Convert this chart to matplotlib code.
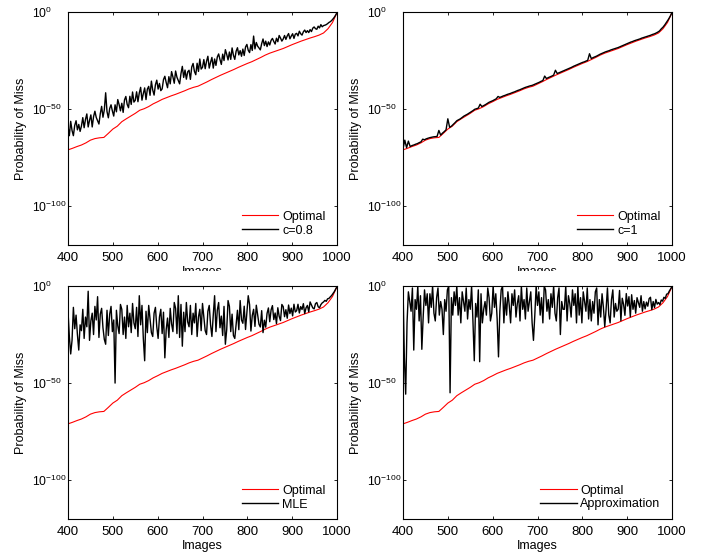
import numpy as np
import matplotlib.pyplot as plt
from matplotlib.patches import Rectangle

plt.rcParams['font.family'] = ['Liberation Sans', 'DejaVu Sans']

# x values (number of images)
opt_images = np.arange(400, 1001, 10)
c1_images = np.arange(400, 1001, 4)
images = np.arange(400, 1001, 3)

# log10 of probability of miss
optimal = [-71.0, -70.2, -69.3, -68.5, -67.4, -66.0, -65.2, -64.8, -64.6, -62.5,
           -60.3, -58.8, -56.5, -55.0, -53.6, -52.2, -50.6, -49.8, -48.7, -47.3,
           -46.2, -45.0, -44.1, -43.2, -42.4, -41.5, -40.6, -39.6, -38.8, -38.2,
           -37.1, -36.0, -34.8, -33.7, -32.6, -31.6, -30.6, -29.6, -28.5, -27.5,
           -26.5, -25.6, -24.5, -23.4, -22.2, -21.2, -20.4, -19.6, -18.8, -17.8,
           -16.8, -15.9, -15.0, -14.2, -13.4, -12.7, -11.9, -10.8, -8.6, -5.4,
           -0.3]

c08 = [-59, -63.7, -56.3, -61.0, -63.7, -58.4, -56.0, -60.7, -57.9, -61.5,
       -58.7, -54.4, -59.6, -55.3, -52.5, -59.2, -55.8, -53.0, -59.2, -53.9,
       -51.1, -54.3, -56.0, -57.7, -52.4, -48.6, -54.2, -50.4, -41.6, -51.3,
       -54.5, -49.7, -47.8, -51.0, -53.6, -47.8, -51.4, -45.1, -47.7, -50.9,
       -47.0, -51.7, -45.3, -43.5, -47.6, -49.3, -43.4, -47.6, -41.2, -46.4,
       -45.5, -41.1, -46.2, -41.7, -38.8, -45.4, -42.0, -39.1, -45.1, -39.7,
       -38.3, -42.9, -35.6, -40.2, -42.8, -37.5, -35.1, -39.7, -36.8, -40.5,
       -39.6, -34.8, -33.1, -36.3, -39.0, -33.3, -37.0, -30.7, -33.4, -36.7,
       -30.4, -33.6, -35.3, -37.0, -31.7, -28.0, -33.7, -29.9, -34.6, -30.8,
       -30.0, -34.7, -28.3, -26.5, -30.6, -32.3, -26.4, -30.6, -24.2, -29.4,
       -28.5, -24.5, -29.2, -25.4, -22.8, -28.9, -25.9, -23.4, -28.9, -24.2,
       -27.5, -23.2, -21.6, -24.5, -27.0, -21.7, -25.0, -19.4, -21.8, -24.7,
       -20.6, -24.4, -18.5, -22.3, -24.4, -20.2, -18.4, -22.1, -19.9, -22.8,
       -19.1, -22.4, -18.0, -16.7, -19.7, -20.9, -16.8, -19.8, -12.4, -19.0,
       -15.7, -17.6, -18.5, -19.5, -16.3, -13.9, -17.3, -15.0, -17.8, -15.4,
       -17.0, -14.6, -13.6, -15.2, -16.5, -13.5, -15.3, -12.1, -13.4, -15.0,
       -13.9, -12.1, -14.1, -12.3, -11.1, -13.8, -12.4, -11.2, -13.6, -11.4,
       -11.0, -12.3, -9.9, -11.2, -11.9, -10.2, -9.3, -10.6, -9.6, -10.6,
       -9.05, -10.1, -8.3, -7.7, -8.6, -8.9, -7.3, -8.2, -6.5, -7.6,
       -7.0, -6.8, -6.5, -6.0, -5.4, -5.0, -4.4, -3.6, -2.7, -1.6,
       -0.3]

c1 = [-70.5, -66, -69.9, -66.5, -69.3, -68.8, -68.5, -68.1, -67.8, -67.3,
      -66.9, -65.5, -65.8, -65.3, -65.0, -64.7, -64.5, -64.3, -64.2, -64.1,
      -61, -63.4, -62.4, -61.6, -60.7, -55, -59.4, -58.8, -57.9, -57.0,
      -56.0, -55.5, -55.0, -54.3, -53.6, -53.1, -52.6, -52.0, -51.4, -50.8,
      -50.1, -49.8, -49.5, -47.5, -48.7, -48.2, -47.7, -47.1, -46.5, -46.1,
      -45.7, -45.2, -44.7, -43.5, -44.0, -43.6, -43.2, -42.9, -42.5, -42.2,
      -41.9, -41.5, -41.2, -40.8, -40.4, -40.1, -39.7, -39.3, -38.9, -38.6,
      -38.3, -38.0, -37.8, -37.4, -37.0, -36.6, -36.2, -35.7, -35.3, -33,
      -34.3, -33.8, -33.4, -33.0, -32.5, -30, -31.7, -31.3, -30.9, -30.5,
      -30.1, -29.7, -29.3, -28.9, -28.5, -28.0, -27.6, -27.2, -26.8, -26.4,
      -26.0, -25.7, -25.3, -24.9, -21.5, -24.0, -23.5, -23.1, -22.7, -22.2,
      -21.7, -21.3, -20.9, -20.5, -20.2, -19.9, -19.5, -19.2, -18.9, -18.6,
      -18.3, -17.9, -17.5, -17.1, -16.7, -16.3, -15.9, -15.5, -15.2, -14.8,
      -14.5, -14.2, -13.9, -13.5, -13.2, -12.9, -12.6, -12.3, -12.0, -11.6,
      -11.3, -10.9, -10.4, -9.8, -8.7, -7.8, -6.6, -5.2, -3.8, -2.2,
      -0.2]

mle = [-13, -26, -35, -28, -11, -22, -15, -25, -33, -20,
       -23, -12, -27, -16, -21, -2.7, -28, -18, -14, -25,
       -10.5, -17.5, -5.5, -26.5, -14.5, -11.5, -21.5, -27.5, -30, -12.5,
       -25.5, -14.5, -10.5, -23.5, -17.5, -50, -12.5, -20.5, -24.5, -9.5,
       -12, -25, -16, -27, -10, -21, -14, -24, -9, -19,
       -22, -11, -26, -5, -20, -10, -27, -38.5, -13, -24,
       -10, -17, -24, -26, -14, -11, -21, -27, -16, -12,
       -24.5, -13.5, -37, -22.5, -16.5, -26.5, -11.5, -19.5, -23.5, -8.5,
       -11.5, -24.5, -5, -26.5, -9.5, -31, -13.5, -23.5, -8.5, -18.5,
       -21, -10, -25, -14, -19, -9, -26, -16, -12, -23,
       -9, -16, -23, -25, -13, -10, -20, -26, -15, -5,
       -23.5, -12.5, -8.5, -21.5, -15.5, -25.5, -10.5, -30, -22.5, -7.5,
       -10.5, -23.5, -14.5, -25.5, -27, -19.5, -12.5, -22.5, -7.5, -17.5,
       -19.2, -10.4, -22.4, -13.6, -5, -9.6, -23.2, -15.2, -12, -20.8,
       -9.9, -14.8, -19.7, -21.1, -12.7, -24, -17.6, -21.2, -14.1, -11.3,
       -18.4, -12.3, -10.1, -17.3, -13.9, -19.4, -11.2, -15.6, -17.8, -9.5,
       -10.6, -15.8, -12.2, -16.6, -9.8, -14.2, -11.4, -15.4, -9.4, -13.4,
       -12.7, -9.4, -13.9, -10.6, -12.1, -9.1, -14.2, -11.2, -10.0, -13.3,
       -8.2, -9.8, -11.3, -11.8, -9.1, -8.5, -10.7, -11.2, -9.6, -8.7,
       -8.2, -7.4, -7.9, -6.6, -6.4, -5.6, -4.9, -3.9, -2.9, -1.6,
       -0.3]

approx = [0, -37, -55.7, -19, -3, -8, -13, -1, -33, -7,
          -12, 0, -18, -5, -32.6, -16, -2, -10, -4, -19,
          -4, -11, 0, -14, -18, -6, -1, -15, -8, -12,
          -25, -7, -13, -2, 0, -55, -6, -15, -3, -10,
          0, -15, -6, -19, -3, -8, -13, -1, -17, -7,
          -12, 0, -18, -38.5, -9, -16, -2, -39, -4, -19,
          -12, -8, -15, -1, -6, -18, -14, 0, -11, -4,
          -17, -36.5, -13, -2, 0, -19, -6, -15, -3, -10,
          -19, -4, -10, -2, -16, -9, -5, -18, 0, -12,
          -7, -17, -1, -13, -8, -3, -19, -28, -15, 0,
          -10, -3, -15, -6, -19, 0, -2, -13, -7, -17,
          -4, -11, 0, -14, -18, -6, -1, -25, -8, -12,
          -12, 0, -18, -5, -9, -16, -2, -10, -4, -19,
          0, -15, -6, -19, -3, -8, -13, -1, -17, -7,
          -18, -8, -14, -3, -1, -20, -7, -16, -4, -11,
          -21, -12, -1, -15, -19, -7, -2, -16, -9, -13,
          -11.9, -2.3, -17.9, -6.3, -9.5, -15.1, -3.9, -10.3, -5.5, -15.9,
          -4.5, -12, -7.5, -14, -6, -8.5, -11, -5, -13, -8,
          -11.8, -8.3, -10.4, -6.5, -5.8, -12.2, -8, -11.1, -6.9, -9.35,
          -8.5, -9.6, -7.2, -7.8, -5.8, -6.4, -4.2, -4.0, -2.6, -1.5,
          -0.2]

series = [(images, c08), (c1_images, c1), (images, mle), (images, approx)]
names = ['c=0.8', 'c=1', 'MLE', 'Approximation']

W, H = 712, 559
fig = plt.figure(figsize=(W / 100, H / 100), dpi=100)

# axes boxes in pixels: left, top, right, bottom
boxes = [(68, 12, 337, 245), (403, 12, 672, 245),
         (68, 286, 337, 519), (403, 286, 672, 519)]

for i, (l, t, r, b) in enumerate(boxes):
    ax = fig.add_axes([l / W, 1 - b / H, (r - l) / W, (b - t) / H])
    xs, ys = series[i]
    ax.semilogy(opt_images, 10.0 ** np.array(optimal), color='red', lw=0.8, label='Optimal')
    ax.semilogy(xs, 10.0 ** np.array(ys), color='black', lw=1.0, label=names[i])
    ax.set_xlim(400, 1000)
    ax.set_ylim(1e-120, 1)
    ax.set_xticks(np.arange(400, 1001, 100))
    ax.set_yticks([1e-100, 1e-50, 1])
    ax.minorticks_off()
    ax.tick_params(direction='in', length=2.5, width=0.6, top=True, right=True)
    ax.tick_params(axis='x', labelsize=9.5, pad=5)
    ax.tick_params(axis='y', labelsize=8.7, pad=26)
    plt.setp(ax.get_yticklabels(), ha='left')
    for sp in ax.spines.values():
        sp.set_linewidth(0.8)
    ax.set_ylabel('Probability of Miss', fontsize=9)
    ax.yaxis.set_label_coords(-0.152, 0.5)
    ax.set_xlabel('Images', fontsize=9)
    ax.xaxis.set_label_coords(0.5, -0.088)
    ax.legend(loc='lower right', frameon=False, fontsize=9,
              bbox_to_anchor=(1 - 11.5 / 269, 8.5 / 233), borderaxespad=0, borderpad=0,
              handlelength=2.95, handletextpad=0.3, labelspacing=0.15)

# the top row's x label is cut off in the reference
fig.add_artist(Rectangle((0, 1 - 281 / H), 1, 9.5 / H, transform=fig.transFigure,
                         facecolor='white', edgecolor='none', zorder=5))

fig.savefig('out.png', dpi=100)
